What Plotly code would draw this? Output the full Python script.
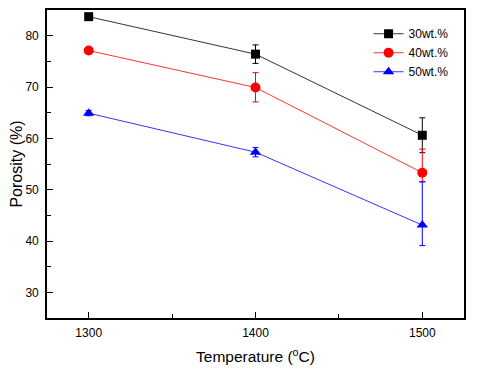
import plotly.graph_objects as go

temps = [1300, 1400, 1500]
series_names = ["30wt.%", "40wt.%", "50wt.%"]
p30 = [83.7, 76.4, 60.6]
p40 = [77.1, 69.9, 53.3]
p50 = [64.9, 57.3, 43.1]
e30_up = [0.4, 1.8, 3.4]
e30_dn = [0.4, 1.8, 3.4]
e40_up = [0.6, 2.9, 4.6]
e40_dn = [0.6, 2.8, 1.7]
e50_up = [0.5, 0.9, 8.4]
e50_dn = [0.5, 0.9, 4.0]

colors = ["#000000", "#ff0000", "#0000ff"]
symbols = ["square", "circle", "triangle-up"]
sizes = [9, 10, 10]

FONT = "Liberation Sans, Arial"

fig = go.Figure()
for name, y, eu, ed, c, s, sz in zip(series_names, [p30, p40, p50],
                                      [e30_up, e40_up, e50_up], [e30_dn, e40_dn, e50_dn],
                                      colors, symbols, sizes):
    fig.add_trace(go.Scatter(
        x=temps, y=y, name=name, mode="lines+markers",
        line=dict(color=c, width=0.8),
        marker=dict(symbol=s, size=sz, color=c),
        error_y=dict(type="data", symmetric=False, array=eu, arrayminus=ed,
                     color=c, thickness=1, width=3),
    ))

axis_common = dict(
    showline=True, linecolor="black", linewidth=1.6, mirror=True,
    ticks="inside", ticklen=6, tickwidth=1, tickcolor="black",
    showgrid=False, zeroline=False, automargin=False,
    tickfont=dict(family=FONT, size=12, color="black"),
)

fig.update_xaxes(range=[1275, 1525], tickvals=temps, ticktext=[str(t) for t in temps],
                 minor=dict(ticks="inside", ticklen=4, tickcolor="black", dtick=50, tick0=1300),
                 ticklabelstandoff=3,
                 title=dict(text="Temperature (<sup>o</sup>C)",
                            font=dict(family=FONT, size=15.5, color="black"),
                            standoff=12),
                 **axis_common)
fig.update_yaxes(range=[25, 85], dtick=10, tick0=30,
                 minor=dict(ticks="inside", ticklen=4, tickcolor="black", dtick=5, tick0=25),
                 ticklabelstandoff=4,
                 title=dict(text="Porosity (%)",
                            font=dict(family=FONT, size=16, color="black"),
                            standoff=16),
                 **axis_common)

fig.update_layout(
    width=477, height=370,
    margin=dict(l=39, r=21, t=2, b=60),
    plot_bgcolor="white", paper_bgcolor="white",
    legend=dict(x=0.975, y=0.97, xanchor="right", yanchor="top",
                bgcolor="rgba(0,0,0,0)", font=dict(family=FONT, size=12, color="black"),
                itemwidth=30, tracegroupgap=0),
    showlegend=True,
)

fig.write_html("out.html")
